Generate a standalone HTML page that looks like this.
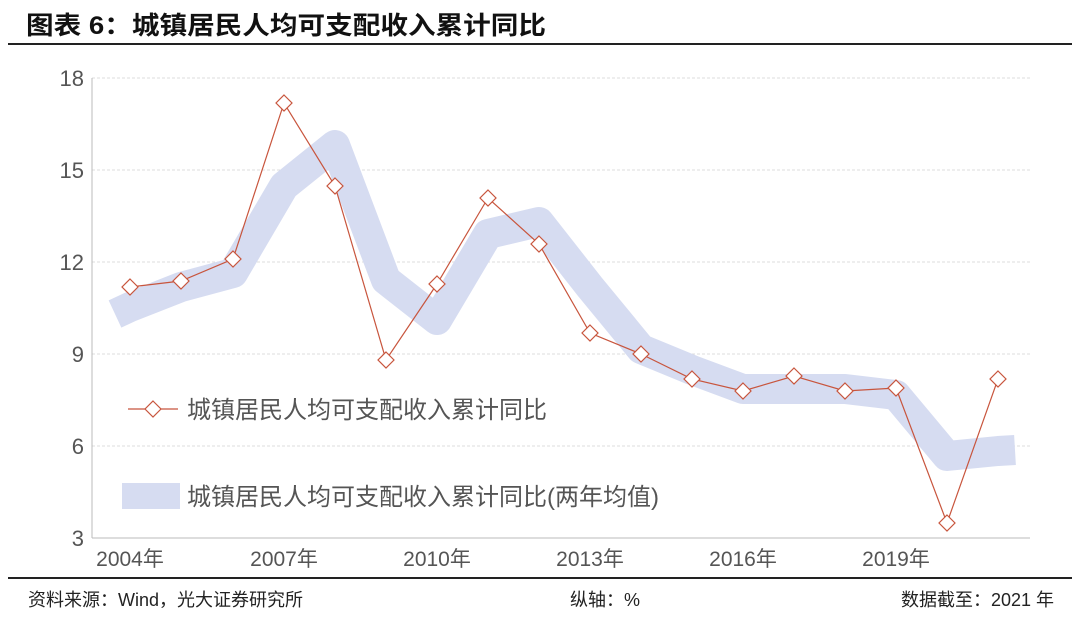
<!DOCTYPE html>
<html><head><meta charset="utf-8"><style>
body{margin:0;background:#fff;width:1080px;height:616px;overflow:hidden;font-family:"Liberation Sans","Noto Sans CJK SC",sans-serif;}
</style></head><body>
<svg width="1080" height="616" xmlns="http://www.w3.org/2000/svg" font-family="Liberation Sans, Noto Sans CJK SC, sans-serif">
<text x="26" y="34" font-size="25" font-weight="bold" fill="#111" textLength="520" lengthAdjust="spacingAndGlyphs">图表 6：城镇居民人均可支配收入累计同比</text>
<rect x="8" y="43" width="1064" height="2" fill="#222"/>
<g stroke="#ddd" stroke-dasharray="3,2" stroke-width="1">
<line x1="92" y1="78" x2="1030" y2="78"/><line x1="92" y1="170" x2="1030" y2="170"/>
<line x1="92" y1="262" x2="1030" y2="262"/><line x1="92" y1="354" x2="1030" y2="354"/>
<line x1="92" y1="446" x2="1030" y2="446"/></g>
<line x1="92" y1="78" x2="92" y2="538" stroke="#bbb"/>
<line x1="92" y1="538" x2="1030" y2="538" stroke="#bbb"/>
<g font-size="22" fill="#555" text-anchor="end">
<text x="84" y="86">18</text><text x="84" y="178">15</text><text x="84" y="270">12</text>
<text x="84" y="362">9</text><text x="84" y="454">6</text><text x="84" y="546">3</text></g>
<g font-size="21" fill="#555" text-anchor="middle">
<text x="130" y="566">2004年</text><text x="284" y="566">2007年</text><text x="437" y="566">2010年</text>
<text x="590" y="566">2013年</text><text x="743" y="566">2016年</text><text x="896" y="566">2019年</text></g>
<polyline fill="none" stroke="#d6dcf1" stroke-width="30" stroke-linejoin="round" points="115,314 130,307 181,287 233,273 284,186 335,145 386,280 437,320 488,234 539,222 590,287 641,349 692,370 743,389 794,389 845,389 896,395 947,456 998,451 1015,450"/>
<polyline fill="none" stroke="#c8553d" stroke-width="1.2" points="130,287 181,281 233,259 284,103 335,186 386,360 437,284 488,198 539,244 590,333 641,354 692,379 743,391 794,376 845,391 896,388 947,523 998,379"/>
<g fill="#fff" stroke="#c8553d" stroke-width="1.2">
<path d="M130,279l8,8l-8,8l-8,-8z"/><path d="M181,273l8,8l-8,8l-8,-8z"/><path d="M233,251l8,8l-8,8l-8,-8z"/>
<path d="M284,95l8,8l-8,8l-8,-8z"/><path d="M335,178l8,8l-8,8l-8,-8z"/><path d="M386,352l8,8l-8,8l-8,-8z"/>
<path d="M437,276l8,8l-8,8l-8,-8z"/><path d="M488,190l8,8l-8,8l-8,-8z"/><path d="M539,236l8,8l-8,8l-8,-8z"/>
<path d="M590,325l8,8l-8,8l-8,-8z"/><path d="M641,346l8,8l-8,8l-8,-8z"/><path d="M692,371l8,8l-8,8l-8,-8z"/>
<path d="M743,383l8,8l-8,8l-8,-8z"/><path d="M794,368l8,8l-8,8l-8,-8z"/><path d="M845,383l8,8l-8,8l-8,-8z"/>
<path d="M896,380l8,8l-8,8l-8,-8z"/><path d="M947,515l8,8l-8,8l-8,-8z"/><path d="M998,371l8,8l-8,8l-8,-8z"/>
<line x1="128" y1="409" x2="178" y2="409"/><path d="M153,401l8,8l-8,8l-8,-8z"/></g>
<text x="187" y="418" font-size="24" fill="#555">城镇居民人均可支配收入累计同比</text>
<line x1="122" y1="496" x2="180" y2="496" stroke="#d6dcf1" stroke-width="26"/>
<text x="187" y="505" font-size="24" fill="#555">城镇居民人均可支配收入累计同比(两年均值)</text>
<rect x="8" y="577" width="1064" height="2" fill="#222"/>
<g font-size="18" fill="#222">
<text x="28" y="606">资料来源：Wind，光大证券研究所</text>
<text x="570" y="606">纵轴：%</text>
<text x="1054" y="606" text-anchor="end">数据截至：2021 年</text></g>
</svg>
</body></html>
